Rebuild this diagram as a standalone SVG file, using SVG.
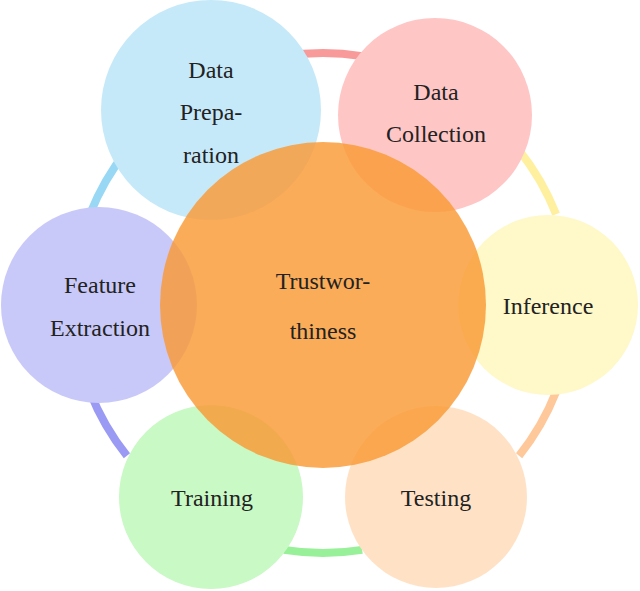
<svg xmlns="http://www.w3.org/2000/svg" width="640" height="591" viewBox="0 0 640 591">
<style>
.t{font-family:'Liberation Serif','DejaVu Serif',serif;font-size:24px;fill:#222;text-anchor:middle}
.arc{fill:none;stroke-width:8}
</style>
<rect width="640" height="591" fill="#fff"/>
<g id="connectors">
<path class="arc" stroke="#f99a9a" d="M 283.9 56.1 A 250 250 0 0 1 362.1 56.1"/>
<path class="arc" stroke="#fff0a0" d="M 519.1 150.3 A 250 250 0 0 1 556.1 214.3"/>
<path class="arc" stroke="#ffc89a" d="M 556.1 391.7 A 250 250 0 0 1 519.1 455.7"/>
<path class="arc" stroke="#98f098" d="M 362.1 549.9 A 250 250 0 0 1 283.9 549.9"/>
<path class="arc" stroke="#9a9af5" d="M 126.9 455.7 A 250 250 0 0 1 89.9 391.7"/>
<path class="arc" stroke="#98d8f5" d="M 89.9 214.3 A 250 250 0 0 1 126.9 150.3"/>
</g>
<g id="prep"><circle cx="211" cy="110" r="110" fill="#c6e9f9"/></g>
<g id="collection"><circle cx="435" cy="115" r="97" fill="#ffc6c6"/></g>
<g id="inference"><circle cx="548" cy="305" r="90" fill="#fff8c8"/></g>
<g id="testing"><circle cx="436" cy="497" r="91" fill="#ffe2c6"/></g>
<g id="training"><circle cx="211" cy="497" r="92" fill="#c9f9c4"/></g>
<g id="feature"><circle cx="99" cy="305" r="98" fill="#c9c9f9"/></g>
<g id="center"><circle cx="323" cy="305" r="163" fill="#fa9a35" fill-opacity="0.82"/></g>
<g id="labels" font-family="Liberation Serif, DejaVu Serif, serif">
<text class="t" x="211" y="78">Data</text>
<text class="t" x="211" y="120">Prepa-</text>
<text class="t" x="211" y="163">ration</text>
<text class="t" x="436" y="100">Data</text>
<text class="t" x="436" y="142">Collection</text>
<text class="t" x="548" y="314">Inference</text>
<text class="t" x="436" y="506">Testing</text>
<text class="t" x="212" y="506">Training</text>
<text class="t" x="100" y="293">Feature</text>
<text class="t" x="100" y="336">Extraction</text>
<text class="t" x="323" y="289">Trustwor-</text>
<text class="t" x="323" y="339">thiness</text>
</g>
</svg>
